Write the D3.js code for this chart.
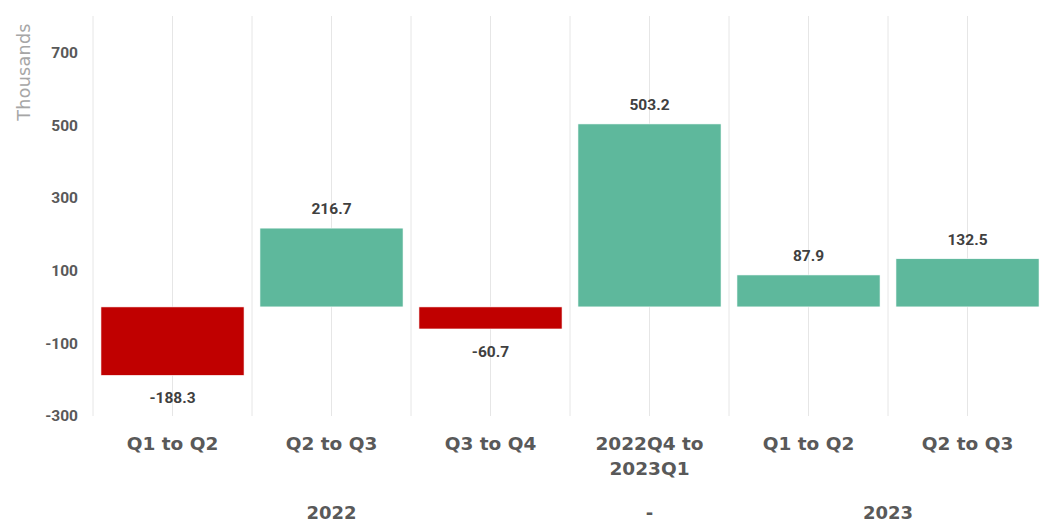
<!DOCTYPE html>
<html>
<head>
<meta charset="utf-8">
<script src="https://cdn.jsdelivr.net/npm/d3@7"></script>
<style>
  html, body { margin: 0; padding: 0; background: #ffffff; }
  svg { display: block; }
</style>
</head>
<body>
<svg id="chart" width="1041" height="522"></svg>
<script>
// Quarter-on-quarter change, in thousands
const categories = ["2022 Q1 to Q2", "2022 Q2 to Q3", "2022 Q3 to Q4", "2022Q4 to 2023Q1", "2023 Q1 to Q2", "2023 Q2 to Q3"];
const categoryLabels = [["Q1 to Q2"], ["Q2 to Q3"], ["Q3 to Q4"], ["2022Q4 to", "2023Q1"], ["Q1 to Q2"], ["Q2 to Q3"]];
const values = [-188.3, 216.7, -60.7, 503.2, 87.9, 132.5];
const groups = ["2022", "-", "2023"];
const groupSpans = [[0, 2], [3, 3], [4, 5]];
const yTicks = [-300, -100, 100, 300, 500, 700];
const yDomain = [-300, 800];

const svg = d3.select("#chart");
const plotLeft = 93, plotRight = 1047, plotTop = 16, plotBottom = 416;

const x = d3.scaleBand().domain(categories).range([plotLeft, plotRight]).paddingInner(0.1).paddingOuter(0.05);
const xOuter = d3.scaleBand().domain(categories).range([plotLeft, plotRight]).padding(0);
const y = d3.scaleLinear().domain(yDomain).range([plotBottom, plotTop]);

// Vertical gridlines at band edges and centres
const gridX = [];
categories.forEach(c => {
  gridX.push(xOuter(c));
  gridX.push(xOuter(c) + xOuter.bandwidth() / 2);
});
svg.append("g").selectAll("line").data(gridX).join("line")
  .attr("x1", d => d).attr("x2", d => d)
  .attr("y1", plotTop).attr("y2", plotBottom)
  .attr("stroke", "#e6e6e6").attr("stroke-width", 1);

// Y axis labels (plain hyphen for negatives)
const yAxis = d3.axisLeft(y).tickValues(yTicks).tickSize(0).tickPadding(0)
  .tickFormat(d => String(d));
const yg = svg.append("g").attr("transform", "translate(78,0)").call(yAxis);
yg.select(".domain").remove();
yg.selectAll("text")
  .attr("font-family", "Roboto, 'Liberation Sans', sans-serif")
  .attr("font-weight", "bold")
  .attr("font-size", 15.5)
  .attr("fill", "#595959");

svg.append("text")
  .attr("transform", "translate(25,72) rotate(-90)")
  .attr("text-anchor", "middle")
  .attr("dominant-baseline", "middle")
  .attr("font-family", "'DejaVu Sans', sans-serif")
  .attr("font-size", 17.5)
  .attr("letter-spacing", 0.3)
  .attr("fill", "#a6a6a6")
  .text("Thousands");

// Bars
svg.append("g").selectAll("rect").data(values).join("rect")
  .attr("x", (d, i) => x(categories[i]))
  .attr("width", x.bandwidth())
  .attr("y", d => y(Math.max(0, d)))
  .attr("height", d => Math.abs(y(d) - y(0)))
  .attr("fill", d => d < 0 ? "#c00000" : "#5eb89c")
  .attr("stroke", "#ffffff").attr("stroke-width", 0.6);

// Value labels
svg.append("g").selectAll("text").data(values).join("text")
  .attr("x", (d, i) => x(categories[i]) + x.bandwidth() / 2)
  .attr("y", d => d < 0 ? y(d) + 28 : y(d) - 14)
  .attr("text-anchor", "middle")
  .attr("font-family", "Roboto, 'Liberation Sans', sans-serif")
  .attr("font-weight", "bold")
  .attr("font-size", 15.5)
  .attr("fill", "#404040")
  .text(d => d.toFixed(1));

// Category labels
const catG = svg.append("g");
categoryLabels.forEach((lines, i) => {
  const cx = xOuter(categories[i]) + xOuter.bandwidth() / 2;
  const t = catG.append("text")
    .attr("x", cx)
    .attr("y", 450)
    .attr("text-anchor", "middle")
    .attr("font-family", "'DejaVu Sans', sans-serif")
    .attr("font-weight", "bold")
    .attr("font-size", 18.5)
    .attr("fill", "#595959");
  lines.forEach((s, k) => {
    t.append("tspan").attr("x", cx).attr("dy", k === 0 ? 0 : 25).text(s);
  });
});

// Year group labels
svg.append("g").selectAll("text").data(groups).join("text")
  .attr("x", (d, i) => (xOuter(categories[groupSpans[i][0]]) + xOuter(categories[groupSpans[i][1]]) + xOuter.bandwidth()) / 2)
  .attr("y", 519)
  .attr("text-anchor", "middle")
  .attr("font-family", "'DejaVu Sans', sans-serif")
  .attr("font-weight", "bold")
  .attr("font-size", 18)
  .attr("fill", "#595959")
  .text(d => d);
</script>
</body>
</html>
